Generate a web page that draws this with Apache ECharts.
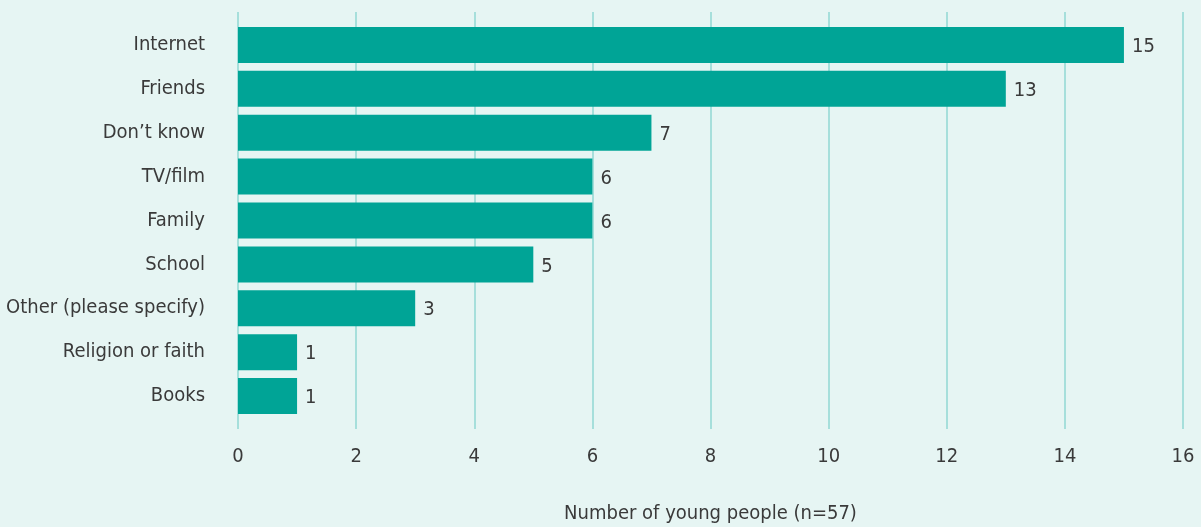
<!DOCTYPE html>
<html>
<head>
<meta charset="utf-8">
<script src="https://cdn.jsdelivr.net/npm/echarts@6/dist/echarts.min.js"></script>
<style>
  html, body { margin: 0; padding: 0; background: #e6f5f3; }
  #chart { width: 1201px; height: 527px; }
</style>
</head>
<body>
<div id="chart"></div>
<script>
// Sources young people mentioned
const categories = ['Internet', 'Friends', 'Don\u2019t know', 'TV/film', 'Family', 'School',
  'Other (please specify)', 'Religion or faith', 'Books'];
const counts = [15, 13, 7, 6, 6, 5, 3, 1, 1];
const xTicks = [0, 2, 4, 6, 8, 10, 12, 14, 16];
const axisTitle = 'Number of young people (n=57)';

const FONT = '"DejaVu Sans Condensed", Roboto, sans-serif';
const TEXT = '#3a3a3a';
const SIZE = 20;

const chart = echarts.init(document.getElementById('chart'), null, { renderer: 'canvas' });
chart.setOption({
  backgroundColor: '#e6f5f3',
  animation: false,
  textStyle: { fontFamily: FONT },
  grid: [
    // vertical grid lines and tick labels
    { left: 238, right: 18, top: 12, bottom: 98, outerBoundsMode: 'none', containLabel: false },
    // bars
    { left: 238, right: 18, top: 23, bottom: 109, outerBoundsMode: 'none', containLabel: false }
  ],
  xAxis: [
    {
      gridIndex: 0, type: 'value', min: xTicks[0], max: xTicks[xTicks.length - 1], interval: 2,
      axisLine: { show: false }, axisTick: { show: false },
      splitLine: { show: true, lineStyle: { color: '#a6dfdb', width: 2 } },
      axisLabel: { color: TEXT, fontSize: SIZE, fontFamily: FONT, margin: 18 },
      name: axisTitle, nameLocation: 'middle', nameGap: 75,
      nameTextStyle: { color: TEXT, fontSize: SIZE, fontFamily: FONT }
    },
    {
      gridIndex: 1, type: 'value', min: xTicks[0], max: xTicks[xTicks.length - 1],
      show: false, splitLine: { show: false }
    }
  ],
  yAxis: [
    { gridIndex: 0, type: 'value', show: false, splitLine: { show: false } },
    {
      gridIndex: 1, type: 'category', data: categories, inverse: true,
      axisLine: { show: false }, axisTick: { show: false },
      axisLabel: { color: TEXT, fontSize: SIZE, fontFamily: FONT, margin: 33, padding: [4, 0, 0, 0] }
    }
  ],
  series: [{
    type: 'bar', xAxisIndex: 1, yAxisIndex: 1,
    data: counts, barWidth: 36,
    itemStyle: { color: '#00a496' },
    label: { show: true, position: 'right', distance: 8, offset: [0, 2],
      color: TEXT, fontSize: SIZE, fontFamily: FONT }
  }]
});
</script>
</body>
</html>
